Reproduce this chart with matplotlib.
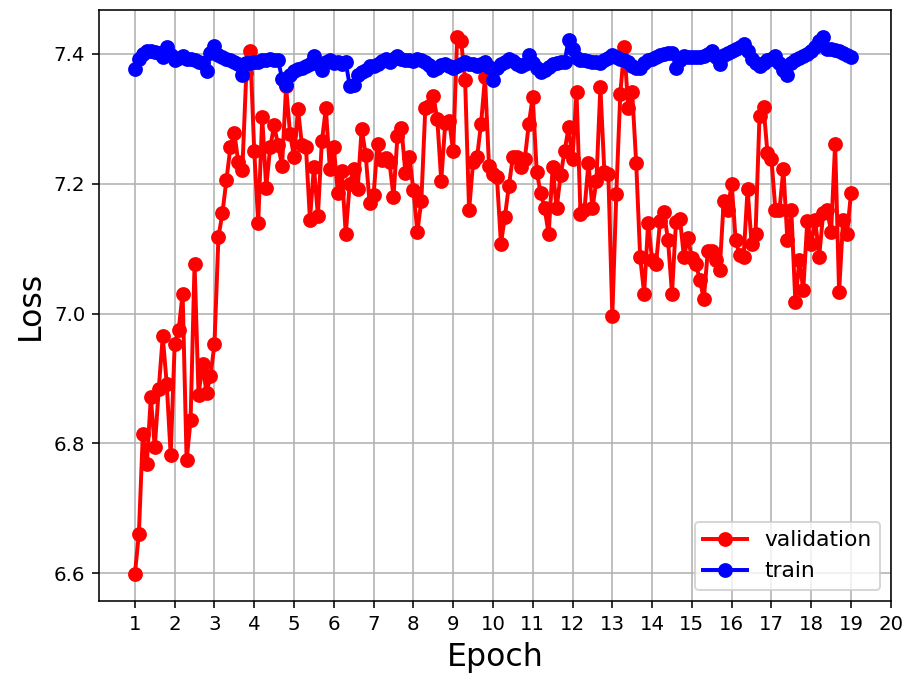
import matplotlib
matplotlib.use("Agg")
import matplotlib.pyplot as plt
import numpy as np

# 10 readings per epoch, epochs 1..19
epochs = np.arange(181) / 10 + 1

validation = [
    6.599, 6.661, 6.815, 6.768, 6.871, 6.794, 6.884, 6.965, 6.892, 6.782,
    6.953, 6.975, 7.031, 6.774, 6.836, 7.077, 6.875, 6.922, 6.878, 6.904,
    6.953, 7.118, 7.155, 7.206, 7.256, 7.278, 7.233, 7.221, 7.370, 7.405,
    7.250, 7.140, 7.303, 7.194, 7.256, 7.290, 7.259, 7.228, 7.350, 7.277,
    7.241, 7.315, 7.259, 7.256, 7.145, 7.226, 7.151, 7.266, 7.316, 7.223,
    7.257, 7.186, 7.220, 7.123, 7.200, 7.223, 7.192, 7.285, 7.245, 7.170,
    7.183, 7.262, 7.236, 7.240, 7.233, 7.180, 7.274, 7.286, 7.216, 7.241,
    7.190, 7.126, 7.174, 7.317, 7.320, 7.335, 7.300, 7.205, 7.293, 7.297,
    7.250, 7.426, 7.420, 7.360, 7.159, 7.233, 7.241, 7.292, 7.364, 7.228,
    7.215, 7.210, 7.108, 7.149, 7.197, 7.241, 7.242, 7.226, 7.238, 7.292,
    7.334, 7.218, 7.186, 7.162, 7.122, 7.226, 7.162, 7.213, 7.250, 7.287,
    7.238, 7.341, 7.154, 7.160, 7.232, 7.162, 7.205, 7.349, 7.218, 7.215,
    6.997, 7.185, 7.338, 7.410, 7.317, 7.341, 7.232, 7.087, 7.031, 7.140,
    7.083, 7.077, 7.142, 7.156, 7.113, 7.031, 7.141, 7.146, 7.087, 7.117,
    7.085, 7.077, 7.052, 7.022, 7.097, 7.097, 7.082, 7.068, 7.174, 7.160,
    7.200, 7.113, 7.090, 7.088, 7.192, 7.108, 7.123, 7.305, 7.319, 7.247,
    7.238, 7.159, 7.159, 7.223, 7.113, 7.159, 7.018, 7.082, 7.037, 7.143,
    7.108, 7.144, 7.088, 7.155, 7.159, 7.126, 7.262, 7.033, 7.144, 7.123,
    7.186,
]

train = [
    7.377, 7.392, 7.400, 7.404, 7.405, 7.403, 7.402, 7.396, 7.411, 7.398,
    7.390, 7.394, 7.397, 7.393, 7.392, 7.390, 7.388, 7.386, 7.374, 7.402,
    7.412, 7.398, 7.396, 7.393, 7.391, 7.388, 7.385, 7.367, 7.386, 7.386,
    7.387, 7.388, 7.390, 7.390, 7.392, 7.391, 7.390, 7.362, 7.352, 7.368,
    7.374, 7.377, 7.378, 7.381, 7.384, 7.397, 7.384, 7.375, 7.388, 7.390,
    7.386, 7.387, 7.385, 7.387, 7.351, 7.352, 7.368, 7.372, 7.376, 7.381,
    7.382, 7.385, 7.389, 7.392, 7.387, 7.392, 7.397, 7.393, 7.391, 7.390,
    7.389, 7.392, 7.390, 7.387, 7.383, 7.376, 7.379, 7.383, 7.384, 7.381,
    7.379, 7.381, 7.384, 7.387, 7.385, 7.384, 7.382, 7.384, 7.387, 7.380,
    7.360, 7.378, 7.384, 7.388, 7.392, 7.389, 7.385, 7.382, 7.384, 7.398,
    7.386, 7.378, 7.372, 7.376, 7.380, 7.384, 7.386, 7.387, 7.388, 7.422,
    7.408, 7.394, 7.391, 7.390, 7.389, 7.388, 7.387, 7.386, 7.390, 7.394,
    7.399, 7.395, 7.393, 7.391, 7.387, 7.382, 7.378, 7.379, 7.386, 7.390,
    7.392, 7.395, 7.398, 7.400, 7.401, 7.402, 7.379, 7.390, 7.397, 7.396,
    7.395, 7.395, 7.396, 7.397, 7.400, 7.404, 7.396, 7.385, 7.399, 7.402,
    7.404, 7.407, 7.410, 7.415, 7.404, 7.392, 7.386, 7.382, 7.386, 7.390,
    7.393, 7.397, 7.386, 7.376, 7.367, 7.386, 7.390, 7.394, 7.397, 7.400,
    7.404, 7.410, 7.420, 7.426, 7.408, 7.407, 7.406, 7.405, 7.402, 7.399,
    7.395,
]

xticks = list(range(1, 21))

fig = plt.figure(figsize=(909 / 142, 682 / 142), dpi=142)
ax = fig.add_axes([0.109, 0.119, 0.871, 0.866])

ax.plot(epochs, validation, 'o-', color='red', label='validation',
        linewidth=2, markersize=6.5)
ax.plot(epochs, train, 'o-', color='blue', label='train',
        linewidth=2, markersize=6.5)

ax.set_xticks(xticks)
ax.set_xlabel('Epoch', fontsize=16)
ax.set_ylabel('Loss', fontsize=16)
ax.grid(True)
ax.legend(loc='lower right', fontsize=11)

fig.savefig('out.png', dpi=142)
